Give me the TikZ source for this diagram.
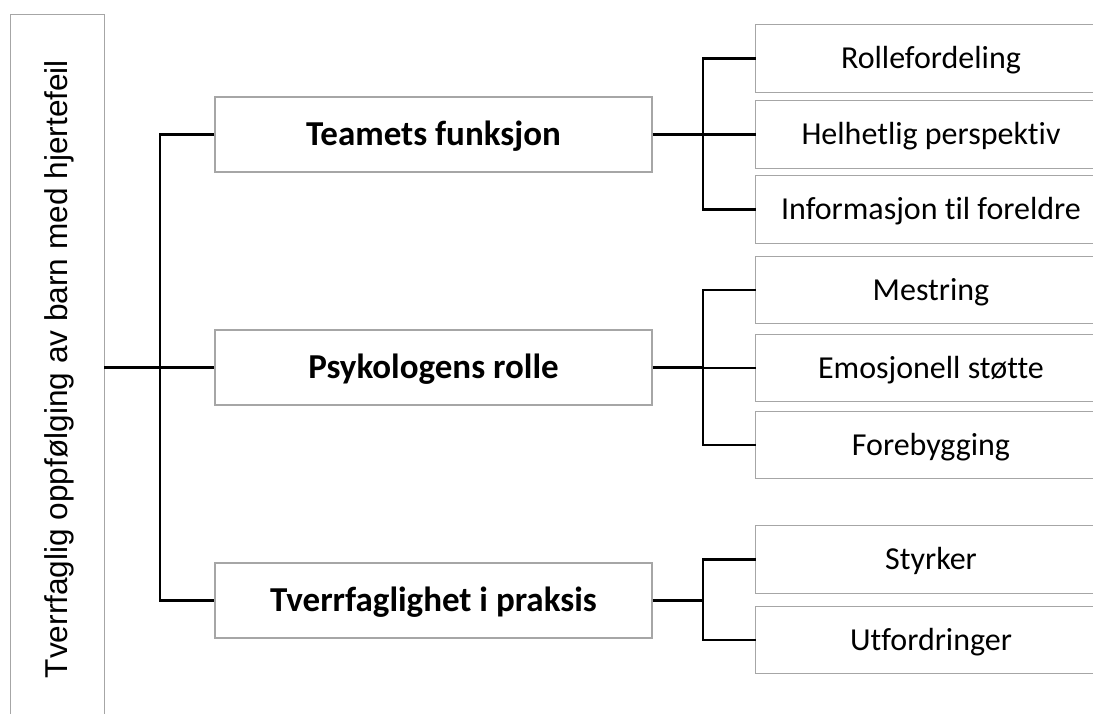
\documentclass[tikz,border=0pt]{standalone}
\usepackage{fontspec}
\setmainfont[Ligatures=NoCommon]{Carlito}
\newfontfamily\rootfont{Liberation Sans}
\definecolor{boxgray}{HTML}{A6A6A6}
\tikzset{
  box/.style={rectangle, inner sep=0pt, align=center, text depth=0pt},
  boxline/.style={draw=boxgray, line width=1.2pt},
  mainbox/.style={box, draw=boxgray, line width=1.2pt, minimum width=437pt, minimum height=75pt, text height=22.5pt, font=\fontsize{35}{42}\selectfont\bfseries},
  subbox/.style={box, minimum width=350pt, minimum height=67pt, text height=20.6pt, font=\fontsize{32}{38}\selectfont},
  rootbox/.style={box, minimum width=93pt, minimum height=710pt},
  roottext/.style={box, rotate=90, text height=22.6pt, font=\rootfont\fontsize{31.6}{38}\selectfont},
  conn/.style={draw=black, line width=2.4pt}
}
\begin{document}
\begin{tikzpicture}[x=1pt, y=-1pt]
\useasboundingbox (0,0) rectangle (1093,713);
\clip (0,0) rectangle (1093,713);
\node[rootbox] (L) at (57.5,370) {};
\draw[boxline] (L.north west) rectangle (L.south east);
\node[roottext] (Lt) at (56,369) {Tverrfaglig oppfølging av barn med hjertefeil};
\node[mainbox] (M1) at (433.5,134.5) {Teamets funksjon};
\node[mainbox] (M2) at (433.5,367.5) {Psykologens rolle};
\node[mainbox] (M3) at (433.5,600.5) {Tverrfaglighet i praksis};
\node[subbox] (R1) at (931,58.5) {Rollefordeling};
\node[subbox] (R2) at (931,134.5) {Helhetlig perspektiv};
\node[subbox] (R3) at (931,209.5) {Informasjon til foreldre};
\node[subbox] (P1) at (931,290) {Mestring};
\node[subbox] (P2) at (931,368) {Emosjonell støtte};
\node[subbox] (P3) at (931,445) {Forebygging};
\node[subbox] (T1) at (931,559.5) {Styrker};
\node[subbox] (T2) at (931,640) {Utfordringer};
\foreach \n in {R1,R2,R3,P1,P2,P3,T1,T2}
  \draw[boxline] (\n.north west) rectangle ([xshift=60pt]\n.south east);
\coordinate (tk) at (160,0);
\coordinate (sk) at (703,0);
% root to main
\draw[conn] (L.east |- M2.west) -- (M2.west);
\draw[conn] (M1.west) -- (M1.west -| tk) -- (M3.west -| tk) -- (M3.west);
% group 1
\draw[conn] (M1.east) -- (M1.east -| sk);
\draw[conn] (R1.west) -- (R1.west -| sk) -- (R3.west -| sk) -- (R3.west);
\draw[conn] (R2.west -| sk) -- (R2.west);
% group 2
\draw[conn] (M2.east) -- (M2.east -| sk);
\draw[conn] (P1.west) -- (P1.west -| sk) -- (P3.west -| sk) -- (P3.west);
\draw[conn] (P2.west -| sk) -- (P2.west);
% group 3
\draw[conn] (M3.east) -- (M3.east -| sk);
\draw[conn] (T1.west) -- (T1.west -| sk) -- (T2.west -| sk) -- (T2.west);
\end{tikzpicture}
\end{document}
